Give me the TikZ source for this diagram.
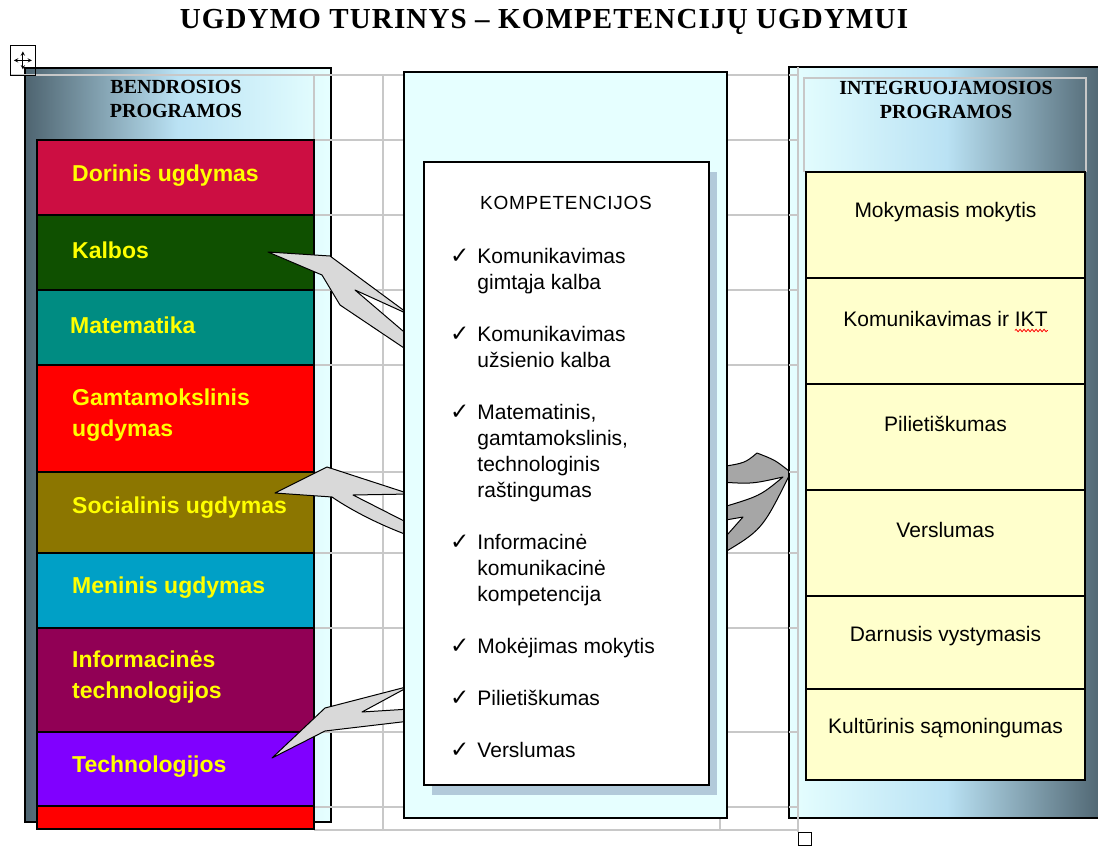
\documentclass[tikz,border=0pt]{standalone}
\usepackage{fontspec}
\setmainfont{Liberation Serif}
\setsansfont{Liberation Sans}
\newfontfamily\checkfont{DejaVu Sans}
\usetikzlibrary{positioning}
\usetikzlibrary{decorations.pathmorphing}
\definecolor{slate}{RGB}{78,100,112}
\definecolor{paleblue}{RGB}{186,226,244}
\definecolor{palecyan}{RGB}{230,255,255}
\definecolor{shadowblue}{RGB}{178,202,218}
\definecolor{rowyellow}{RGB}{255,255,204}
\definecolor{textyellow}{RGB}{255,255,0}
\definecolor{gridgray}{RGB}{200,200,200}
\definecolor{forklight}{RGB}{217,217,217}
\definecolor{forkdark}{RGB}{166,166,166}
\definecolor{cDorinis}{RGB}{204,14,66}
\definecolor{cKalbos}{RGB}{15,80,0}
\definecolor{cMatem}{RGB}{0,140,130}
\definecolor{cGamta}{RGB}{255,0,0}
\definecolor{cSocial}{RGB}{140,118,0}
\definecolor{cMenin}{RGB}{0,160,198}
\definecolor{cInfo}{RGB}{145,0,85}
\definecolor{cTechn}{RGB}{128,0,255}
\newcommand{\Chk}{{\checkfont\fontsize{23}{26}\selectfont ✓}}
\tikzstyle{subj} = [rectangle, draw=black, line width=1.2pt, minimum width=277, inner sep=0pt, outer sep=0pt]
\tikzstyle{subjtext} = [font=\sffamily\bfseries\fontsize{23}{31}\selectfont, text=textyellow, align=left, inner sep=0pt]
\tikzstyle{intg} = [rectangle, draw=black, line width=1.2pt, fill=rowyellow, minimum width=279, inner sep=0pt, outer sep=0pt]
\tikzstyle{intgtext} = [font=\sffamily\fontsize{21}{26}\selectfont, inner sep=0pt]
\tikzstyle{hdr} = [font=\bfseries\fontsize{20}{24}\selectfont, align=center, inner sep=0pt]
\tikzstyle{fork} = [draw=black, line width=1pt, line join=round]
\tikzstyle{gridline} = [draw=gridgray, line width=1.2pt]

\begin{document}
\begin{tikzpicture}[x=1pt, y=-1pt, >=stealth,
  panel/.style={rectangle, draw=black, line width=1.6pt, inner sep=0pt, outer sep=0pt, anchor=north west}]
\useasboundingbox (0,0) rectangle (1098,846);

% Title
\node[font={\bfseries\fontsize{29}{30}\selectfont\addfontfeature{LetterSpace=4}}] (title) at (544,22) {UGDYMO TURINYS – KOMPETENCIJŲ UGDYMUI};

% Left panel
\node[panel, left color=slate, right color=palecyan, middle color=paleblue, minimum width=306, minimum height=754] (lpanel) at (25,68) {};
\node[hdr] (lhead) at (176,99) {BENDROSIOS\\PROGRAMOS};

% Table grid (behind)
\foreach \gy in {140,215,290,365,472,553,628,732,807,830}
  \draw[gridline] (314,\gy) -- (798,\gy);
\draw[gridline] (10,75) -- (798,75);
\foreach \gx in {314,383,720}
  \draw[gridline] (\gx,75) -- (\gx,830);

% Subjects
\node[subj, fill=cDorinis, minimum height=75, anchor=north west] (dor) at (37,140) {};
\node[subj, fill=cKalbos,  minimum height=75,  below=0pt of dor] (kal) {};
\node[subj, fill=cMatem,   minimum height=75,  below=0pt of kal] (mat) {};
\node[subj, fill=cGamta,   minimum height=107, below=0pt of mat] (gam) {};
\node[subj, fill=cSocial,  minimum height=81,  below=0pt of gam] (soc) {};
\node[subj, fill=cMenin,   minimum height=75,  below=0pt of soc] (men) {};
\node[subj, fill=cInfo,    minimum height=104, below=0pt of men] (inf) {};
\node[subj, fill=cTechn,   minimum height=74,  below=0pt of inf] (tec) {};
\node[subj, fill=cGamta,   minimum height=23,  below=0pt of tec] (bot) {};

\node[subjtext, right=35pt of dor.west, yshift=2pt] (dorT) {Dorinis ugdymas};
\node[subjtext, right=35pt of kal.west, yshift=2pt] (kalT) {Kalbos};
\node[subjtext, right=33pt of mat.west, yshift=2pt] (matT) {Matematika};
\node[subjtext, right=35pt of gam.west, yshift=3pt] (gamT) {Gamtamokslinis\\ugdymas};
\node[subjtext, right=35pt of soc.west, yshift=5pt] (socT) {Socialinis ugdymas};
\node[subjtext, right=35pt of men.west, yshift=3pt] (menT) {Meninis ugdymas};
\node[subjtext, right=35pt of inf.west, yshift=3pt] (infT) {Informacinės\\technologijos};
\node[subjtext, right=35pt of tec.west, yshift=2pt] (tecT) {Technologijos};

% Forked arrows
\path[fork, fill=forklight] (268,252) -- (330,256) -- (410,315) -- (355,290) -- (410,337) -- (410,352) -- (340,305) -- (322,275) -- cycle;
\path[fork, fill=forklight] (275,493) -- (327,467) -- (410,494) -- (353,495) -- (410,524) -- (410,536) .. controls (372,522) and (345,506) .. (332,497) -- cycle;
\path[fork, fill=forklight] (272,758) -- (325,708) -- (410,686) -- (362,712) -- (410,709) -- (410,721) -- (325,731) -- cycle;
\path[fork, fill=forkdark] (789,471) .. controls (775,460) .. (757,453) .. controls (745,463) .. (720,467) -- (720,482) .. controls (752,484) .. (783,477) .. controls (760,496) .. (720,508) -- (720,521) -- (743,517) -- (720,543) -- (720,555) .. controls (762,530) .. (789,476) -- cycle;

% Competences
\node[panel, fill=palecyan, minimum width=323, minimum height=746] (mid) at (404,72) {};
\node[panel, draw=none, fill=shadowblue, minimum width=285, minimum height=623] (compshadow) at (432,172) {};
\node[panel, fill=white, line width=1.4pt, minimum width=285, minimum height=623] (comp) at (424,162) {};
\node[font={\sffamily\fontsize{19}{22}\selectfont\addfontfeature{LetterSpace=4}}] (kompT) at (566,203) {KOMPETENCIJOS};
\node[anchor=north west, inner sep=0pt, font=\sffamily\fontsize{21}{26}\selectfont] (items) at (450,245) {%
\begin{tabular}{@{}l@{\hspace{8pt}}l@{}}
\Chk & Komunikavimas\\
     & gimtąja kalba\\[26pt]
\Chk & Komunikavimas\\
     & užsienio kalba\\[26pt]
\Chk & Matematinis,\\
     & gamtamokslinis,\\
     & technologinis\\
     & raštingumas\\[26pt]
\Chk & Informacinė\\
     & komunikacinė\\
     & kompetencija\\[26pt]
\Chk & Mokėjimas mokytis\\[26pt]
\Chk & Pilietiškumas\\[26pt]
\Chk & Verslumas
\end{tabular}};

% Right panel
\node[panel, left color=palecyan, right color=slate, middle color=paleblue, minimum width=315, minimum height=751] (rpanel) at (789,67) {};
\draw[gridline] (804,172) -- (804,78) -- (1086,78) -- (1086,172);
\node[hdr] (rhead) at (946,100) {INTEGRUOJAMOSIOS\\PROGRAMOS};

\node[intg, minimum height=106, anchor=north west] (mok) at (806,172) {};
\node[intg, minimum height=106, below=0pt of mok] (ikt) {};
\node[intg, minimum height=106, below=0pt of ikt] (pil) {};
\node[intg, minimum height=106, below=0pt of pil] (ver) {};
\node[intg, minimum height=93,  below=0pt of ver] (dar) {};
\node[intg, minimum height=91,  below=0pt of dar] (kul) {};

\node[intgtext] (mokT) at ([yshift=13pt]mok.center) {Mokymasis mokytis};
\node[intgtext] (iktT) at ([yshift=12pt]ikt.center) {Komunikavimas ir IKT};
\node[intgtext] (pilT) at ([yshift=13pt]pil.center) {Pilietiškumas};
\node[intgtext] (verT) at ([yshift=13pt]ver.center) {Verslumas};
\node[intgtext] (darT) at ([yshift=6pt]dar.center) {Darnusis vystymasis};
\node[intgtext] (kulT) at ([yshift=6pt]kul.center) {Kultūrinis sąmoningumas};
\draw[red, line width=0.8pt, decorate, decoration={snake, amplitude=1.2pt, segment length=4pt}]
  ([xshift=-33pt, yshift=-4pt]iktT.base east) -- ([yshift=-4pt]iktT.base east);

% Table grid (front)
\foreach \gy in {75,140,215,290,365,472,553,628,732,807,830}
  \draw[gridline] (789,\gy) -- (798,\gy);
\draw[gridline] (798,67) -- (798,832);

% Table handles
\node[draw=black, line width=0.8pt, fill=white, minimum width=13, minimum height=13, inner sep=0pt, anchor=north west] (endbox) at (798,832) {};
\node[draw=black, line width=0.8pt, minimum width=25, minimum height=30, inner sep=0pt, anchor=north west] (movebox) at (10,45) {};
\draw[<->, line width=0.9pt] ([yshift=9pt]movebox.center) -- ([yshift=-9pt]movebox.center);
\draw[<->, line width=0.9pt] ([xshift=-9pt]movebox.center) -- ([xshift=9pt]movebox.center);
\end{tikzpicture}
\end{document}
